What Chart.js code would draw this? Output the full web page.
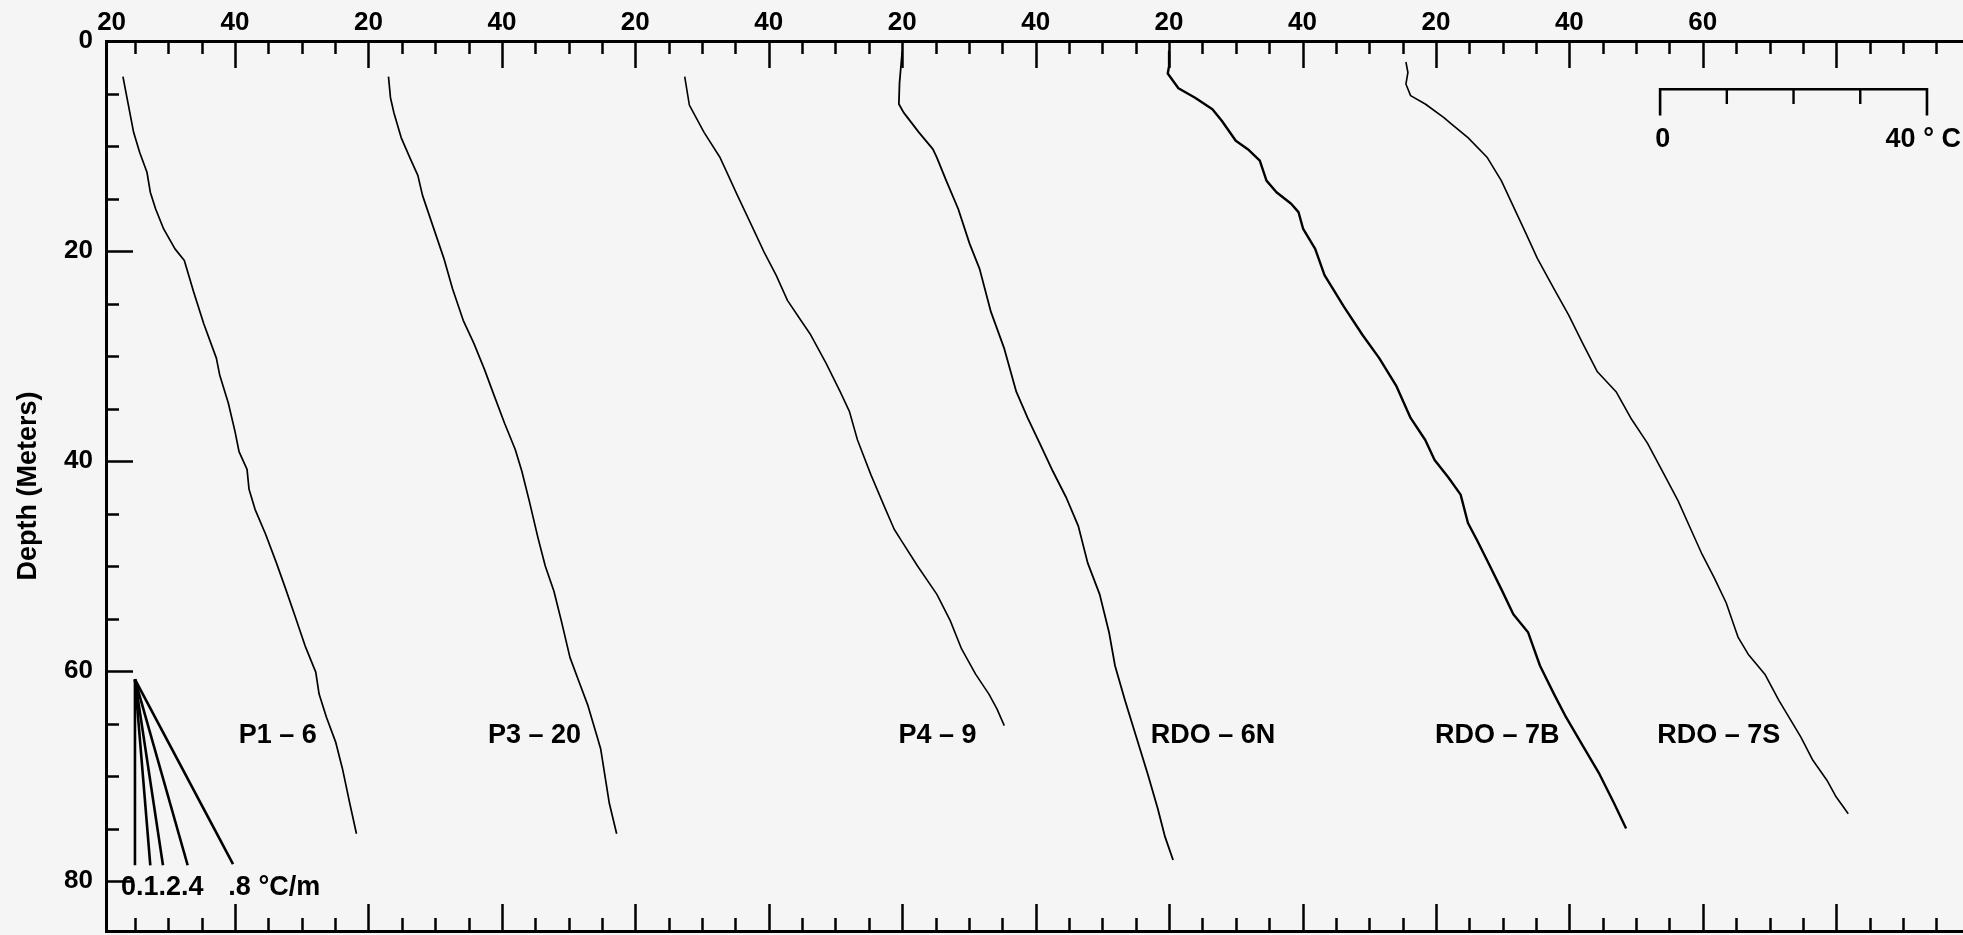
<!DOCTYPE html>
<html>
<head>
<meta charset="utf-8">
<script src="https://cdn.jsdelivr.net/npm/chart.js@4.4.1/dist/chart.umd.min.js"></script>
<style>
html,body{margin:0;padding:0;background:#f5f5f5;overflow:hidden}
#wrap{width:1963px;height:935px}
canvas{display:block}
</style>
</head>
<body>
<div id="wrap"><canvas id="c" width="1963" height="935"></canvas></div>
<script>
// ---------------- DATA ----------------
const profileNames   = ["P1 – 6", "P3 – 20", "P4 – 9", "RDO – 6N", "RDO – 7B", "RDO – 7S"];
const profileOffsets = [0, 40, 80, 120, 160, 200]; // each profile shifted by 40 °C on the shared axis

const p1_6Depth = [3.4, 5.4, 8.7, 10.6, 12.5, 14.4, 16.0, 17.9, 19.8, 20.9, 23.9, 26.9, 30.2, 31.8, 34.5, 37.2, 39.1, 40.8, 42.7, 44.6, 47.0, 49.7, 52.2, 54.6, 57.6, 60.1, 62.2, 64.4, 66.8, 69.3, 72.6, 75.5];
const p1_6Temp  = [23.2, 23.8, 24.8, 25.7, 26.8, 27.3, 28.1, 29.3, 31.0, 32.4, 33.8, 35.3, 37.2, 37.7, 39.0, 40.0, 40.6, 41.8, 42.1, 43.0, 44.6, 46.2, 47.6, 48.9, 50.5, 52.1, 52.6, 53.7, 55.1, 56.1, 57.2, 58.2];

const p3_20Depth = [3.4, 5.4, 6.8, 9.2, 11.1, 12.8, 14.7, 17.7, 20.7, 23.6, 26.6, 28.8, 31.3, 33.7, 36.4, 38.9, 41.0, 43.8, 47.3, 50.0, 52.4, 55.2, 58.7, 61.1, 63.3, 66.3, 67.4, 69.8, 72.6, 75.5];
const p3_20Temp  = [23.0, 23.3, 23.8, 24.9, 26.2, 27.4, 28.1, 29.7, 31.3, 32.6, 34.2, 35.8, 37.4, 38.8, 40.4, 42.0, 43.0, 44.1, 45.4, 46.5, 47.8, 48.9, 50.2, 51.6, 52.9, 54.3, 54.8, 55.4, 56.1, 57.2];

const p4_9Depth = [3.4, 6.1, 8.7, 11.1, 12.2, 14.7, 17.4, 20.1, 22.3, 24.7, 26.4, 28.0, 30.7, 33.4, 35.3, 38.0, 41.3, 44.3, 46.5, 47.6, 50.0, 52.7, 55.2, 57.9, 60.3, 62.2, 63.6, 65.2];
const p4_9Temp  = [27.4, 28.1, 30.3, 32.7, 33.5, 35.3, 37.3, 39.3, 41.1, 42.8, 44.6, 46.3, 48.6, 50.7, 52.1, 53.3, 55.3, 57.3, 58.8, 59.9, 62.3, 65.2, 67.2, 68.9, 71.0, 73.0, 74.2, 75.3];

const rdo6nDepth = [1.0, 4.0, 6.0, 6.8, 8.7, 10.3, 11.1, 13.3, 16.0, 19.3, 21.7, 25.8, 29.3, 33.4, 35.9, 38.3, 41.0, 43.5, 46.2, 49.7, 52.7, 56.3, 59.5, 62.8, 66.3, 69.8, 73.1, 75.8, 78.0];
const rdo6nTemp  = [20.0, 19.6, 19.5, 20.2, 22.5, 24.6, 25.2, 26.6, 28.4, 30.1, 31.6, 33.3, 35.3, 37.1, 38.8, 40.6, 42.6, 44.6, 46.4, 47.8, 49.6, 51.0, 51.9, 53.4, 55.1, 56.8, 58.3, 59.4, 60.6];

const rdo7bDepth = [1.0, 2.4, 3.1, 4.5, 5.4, 6.5, 7.6, 9.5, 10.3, 11.4, 13.3, 14.4, 15.5, 16.3, 17.9, 19.8, 22.3, 25.3, 28.0, 30.2, 32.9, 35.9, 38.0, 39.9, 41.6, 43.2, 45.9, 47.6, 49.5, 52.2, 54.6, 56.3, 59.5, 62.2, 64.4, 67.1, 69.8, 72.6, 75.0];
const rdo7bTemp  = [20.0, 20.0, 19.8, 21.4, 23.9, 26.5, 27.9, 30.0, 31.8, 33.6, 34.6, 36.1, 38.3, 39.4, 40.1, 41.9, 43.3, 46.2, 49.0, 51.5, 54.1, 56.2, 58.4, 59.8, 61.9, 63.7, 64.8, 66.2, 67.7, 69.8, 71.6, 73.8, 75.6, 77.7, 79.5, 82.0, 84.5, 86.7, 88.5];

const rdo7sDepth = [2.0, 3.0, 4.1, 5.2, 6.0, 7.3, 7.9, 9.2, 11.1, 13.3, 16.3, 18.2, 20.7, 23.6, 26.1, 28.8, 31.5, 33.4, 35.9, 38.3, 40.8, 43.8, 46.5, 48.9, 51.1, 53.5, 56.8, 58.4, 60.3, 62.8, 64.7, 66.3, 68.5, 70.4, 72.0, 73.6];
const rdo7sTemp  = [15.5, 15.8, 15.5, 16.2, 18.4, 21.2, 22.3, 24.8, 27.7, 29.8, 32.0, 33.4, 35.2, 37.7, 39.9, 42.0, 44.2, 47.0, 49.2, 51.7, 53.8, 56.3, 58.2, 59.9, 61.7, 63.5, 65.3, 66.8, 69.3, 71.4, 73.2, 74.7, 76.5, 78.6, 80.0, 81.8];

const profileDepths = [p1_6Depth, p3_20Depth, p4_9Depth, rdo6nDepth, rdo7bDepth, rdo7sDepth];
const profileTemps  = [p1_6Temp, p3_20Temp, p4_9Temp, rdo6nTemp, rdo7bTemp, rdo7sTemp];

// reference gradient fan (0, .1, .2, .4, .8 °C/m)
const gradientLabels   = ["0.1.2.4", ".8 °C/m"];
const gradientApexTemp = 25.0;
const gradientApexDepth = 60.8;
const gradientEndTemp  = [25.0, 27.3, 29.2, 32.9, 39.7];
const gradientEndDepth = [78.5, 78.5, 78.5, 78.5, 78.4];

// temperature scale bar (0 – 40 °C)
const scaleBarLabels = ["0", "40 ° C"];
const scaleBarStart  = 253.6;
const scaleBarSteps  = [0, 10, 20, 30, 40];

// axis ticks
const xLabelValues = [21.5, 40, 60, 80, 100, 120, 140, 160, 180, 200, 220, 240, 260];
const xLabelTexts  = ["20", "40", "20", "40", "20", "40", "20", "40", "20", "40", "20", "40", "60"];
const xMarkValues  = [25, 30, 35, 40, 45, 50, 55, 60, 65, 70, 75, 80, 85, 90, 95, 100, 105, 110, 115, 120, 125, 130, 135, 140, 145, 150, 155, 160, 165, 170, 175, 180, 185, 190, 195, 200, 205, 210, 215, 220, 225, 230, 235, 240, 245, 250, 255, 260, 265, 270, 275, 280, 285, 290, 295];
const yLabelValues = [0, 20, 40, 60, 80];
const yLabelTexts  = ["0", "20", "40", "60", "80"];
const yMarkValues  = [5, 10, 15, 20, 25, 30, 35, 40, 45, 50, 55, 60, 65, 70, 75, 80];

// ---------------- LAYOUT / STYLE ----------------
const X_MIN = 20.66, X_MAX = 299.0, Y_MIN = 0, Y_MAX = 84.76;
const INK = '#000';
const profileLineWidths = [1.7, 1.7, 1.6, 1.8, 2.4, 1.6];
const profileLabelX = [46.4, 84.9, 145.3, 186.6, 229.2, 262.4];
const profileLabelBaseline = 66.85;
const gradientLabelLeft = [22.9, 39.0];
const gradientLabelBaseline = 81.35;
const scaleBarTop = 4.6, scaleBarEndBottom = 7.1, scaleBarTickBottom = 6.0;
const scaleBarLabelBaseline = 10.1;
const FONT = '"Liberation Sans", Arial, Helvetica, sans-serif';

Chart.defaults.font.family = FONT;
Chart.defaults.color = INK;

const datasets = [];
profileDepths.forEach((dep, k) => {
  datasets.push({
    label: profileNames[k],
    data: dep.map((d, i) => ({ x: profileTemps[k][i] + profileOffsets[k], y: d })),
    showLine: true, borderColor: INK, borderWidth: profileLineWidths[k],
    pointRadius: 0, fill: false, borderJoinStyle: 'round'
  });
});
gradientEndTemp.forEach((t, i) => {
  datasets.push({
    label: 'grad' + i,
    data: [{ x: gradientApexTemp, y: gradientApexDepth }, { x: t, y: gradientEndDepth[i] }],
    showLine: true, borderColor: INK, borderWidth: 2.6, pointRadius: 0, fill: false
  });
});
const sbEnd = scaleBarStart + scaleBarSteps[scaleBarSteps.length - 1];
datasets.push({
  label: 'scalebar',
  data: [{ x: scaleBarStart, y: scaleBarEndBottom }, { x: scaleBarStart, y: scaleBarTop },
         { x: sbEnd, y: scaleBarTop }, { x: sbEnd, y: scaleBarEndBottom }],
  showLine: true, borderColor: INK, borderWidth: 2.6, pointRadius: 0, fill: false, clip: false
});
scaleBarSteps.slice(1, -1).forEach(s => {
  datasets.push({
    label: 'sbtick' + s,
    data: [{ x: scaleBarStart + s, y: scaleBarTop }, { x: scaleBarStart + s, y: scaleBarTickBottom }],
    showLine: true, borderColor: INK, borderWidth: 2.4, pointRadius: 0, fill: false
  });
});

const overlay = {
  id: 'overlay',
  beforeDraw(chart) {
    const { ctx, width, height } = chart;
    ctx.save(); ctx.fillStyle = '#f5f5f5'; ctx.fillRect(0, 0, width, height); ctx.restore();
  },
  afterDatasetsDraw(chart) {
    const ctx = chart.ctx, xs = chart.scales.x, ys = chart.scales.y, ca = chart.chartArea;
    ctx.save();
    // inward tick marks
    ctx.strokeStyle = INK; ctx.lineWidth = 2.5; ctx.lineCap = 'butt';
    ctx.beginPath();
    xMarkValues.forEach(v => {
      const px = Math.round(xs.getPixelForValue(v)) + 0.5;
      const len = (v % 20 === 0) ? 27 : 13;
      ctx.moveTo(px, ca.top); ctx.lineTo(px, ca.top + len);
      ctx.moveTo(px, ca.bottom); ctx.lineTo(px, ca.bottom - len);
    });
    yMarkValues.forEach(v => {
      const py = Math.round(ys.getPixelForValue(v)) + 0.5;
      const len = (v % 20 === 0) ? 27 : 13;
      ctx.moveTo(ca.left, py); ctx.lineTo(ca.left + len, py);
    });
    ctx.stroke();
    // texts
    ctx.fillStyle = INK;
    ctx.font = 'bold 27px ' + FONT;
    ctx.textBaseline = 'alphabetic';
    ctx.textAlign = 'center';
    profileNames.forEach((n, k) => {
      ctx.fillText(n, xs.getPixelForValue(profileLabelX[k]), ys.getPixelForValue(profileLabelBaseline));
    });
    ctx.textAlign = 'left';
    gradientLabels.forEach((t, i) => {
      ctx.fillText(t, xs.getPixelForValue(gradientLabelLeft[i]), ys.getPixelForValue(gradientLabelBaseline));
    });
    ctx.textAlign = 'center';
    ctx.fillText(scaleBarLabels[0], xs.getPixelForValue(scaleBarStart + 0.4), ys.getPixelForValue(scaleBarLabelBaseline));
    ctx.textAlign = 'left';
    ctx.fillText(scaleBarLabels[1], xs.getPixelForValue(287.4), ys.getPixelForValue(scaleBarLabelBaseline));
    ctx.restore();
  }
};

function noPad(s) { s.paddingTop = 0; s.paddingBottom = 0; s.paddingLeft = 0; s.paddingRight = 0; }

new Chart(document.getElementById('c'), {
  type: 'scatter',
  data: { datasets },
  plugins: [overlay],
  options: {
    responsive: false,
    animation: false,
    devicePixelRatio: 1,
    layout: { padding: 0 },
    plugins: { legend: { display: false }, tooltip: { enabled: false }, title: { display: false } },
    scales: {
      x: {
        type: 'linear', position: 'top', min: X_MIN, max: X_MAX,
        afterFit: s => { s.height = 41; noPad(s); },
        afterBuildTicks: s => { s.ticks = xLabelValues.map(v => ({ value: v })); },
        grid: { display: false, drawTicks: false },
        border: { display: true, color: INK, width: 3 },
        ticks: {
          autoSkip: false, maxRotation: 0, minRotation: 0, padding: 3, color: INK,
          font: { size: 26, weight: 'bold' },
          callback: (v, i) => xLabelTexts[i]
        }
      },
      x2: {
        type: 'linear', position: 'bottom', min: X_MIN, max: X_MAX,
        afterFit: s => { s.height = 4; noPad(s); },
        grid: { display: false, drawTicks: false },
        border: { display: true, color: INK, width: 3 },
        ticks: { display: false }
      },
      y: {
        type: 'linear', position: 'left', reverse: true, min: Y_MIN, max: Y_MAX,
        afterFit: s => { s.width = 106; noPad(s); },
        afterBuildTicks: s => { s.ticks = yLabelValues.map(v => ({ value: v })); },
        grid: { display: false, drawTicks: false },
        border: { display: true, color: INK, width: 3 },
        ticks: {
          autoSkip: false, padding: 13, color: INK,
          font: { size: 26, weight: 'bold' },
          callback: (v, i) => yLabelTexts[i]
        },
        title: {
          display: true, text: 'Depth (Meters)', color: INK,
          font: { size: 27, weight: 'bold' },
          padding: { top: 12, bottom: 0 }
        }
      }
    }
  }
});
</script>
</body>
</html>
